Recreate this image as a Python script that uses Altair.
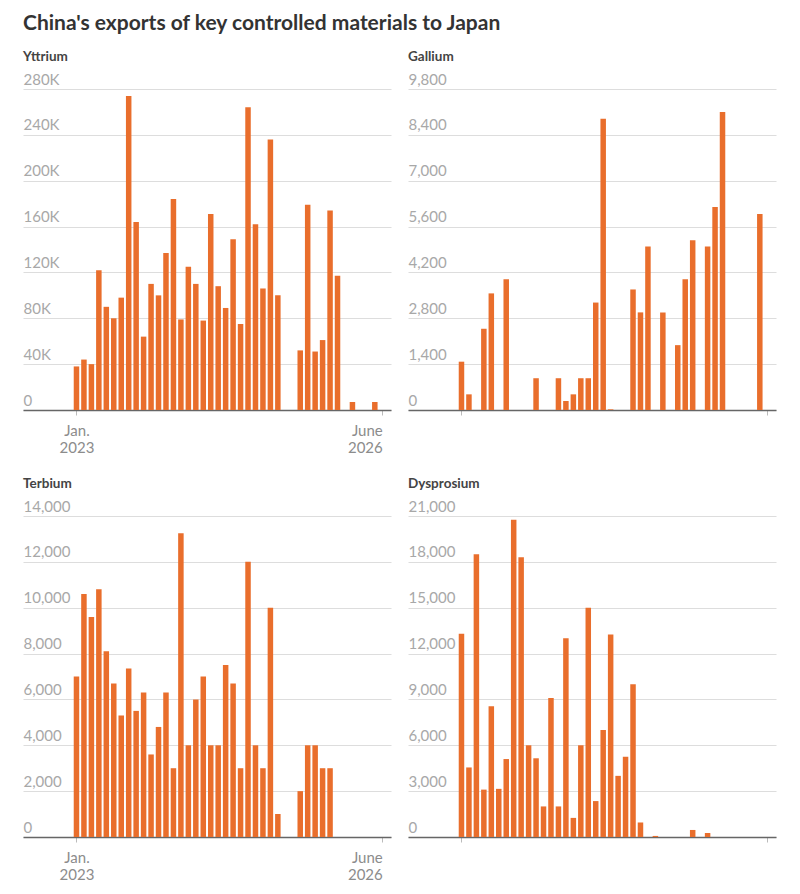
import altair as alt
import pandas as pd

# Months indexed from Jan. 2023 (0) to June 2026 (41)
months = list(range(42))

yttrium = [38000, 44000, 40000, 122000, 90000, 80000, 98000, 274000, 164000, 64000,
           110000, 100000, 137000, 184000, 79000, 125000, 110000, 78000, 171000, 108000,
           89000, 149000, 75000, 264000, 162000, 106000, 236000, 100000, None, None,
           52000, 179000, 51000, 61000, 174000, 117000, None, 7000, None, None,
           7000, None]

gallium = [1475, 478, None, 2480, 3560, None, 3990, None, None, None,
           970, None, None, 970, 275, 478, 970, 970, 3280, 8890,
           20, None, None, 3680, 2980, 4990, None, 2980, None, 1980,
           3990, 5180, None, 4990, 6200, 9100, None, None, None, None,
           5980, None]

terbium = [7000, 10600, 9600, 10800, 8100, 6700, 5300, 7350, 5500, 6300,
           3600, 4800, 6300, 3000, 13250, 4000, 6000, 7000, 4000, 4000,
           7500, 6700, 3000, 12000, 4000, 3000, 10000, 1000, None, None,
           2000, 4000, 4000, 3000, 3000, None, None, None, None, None,
           None, None]

dysprosium = [13300, 4550, 18500, 3100, 8550, 3150, 5100, 20750, 18300, 6000,
              5150, 2000, 9100, 2000, 13000, 1250, 6000, 15000, 2350, 7000,
              13250, 4000, 5250, 10000, 950, None, 70, None, None, None,
              None, 460, None, 260, None, None, None, None, None, None,
              None, None]

x_tick_values = [0, 41]
x_tick_labels = [["Jan.", "2023"], ["June", "2026"]]

FONT = "Lato"
ORANGE = "#e96e2c"


def panel(name, values, ymax, step, label_expr, show_x_labels):
    df = pd.DataFrame({"month": months, "value": values}).dropna()
    if show_x_labels:
        x_axis = alt.Axis(
            values=x_tick_values,
            labelExpr="datum.value == 0 ? ['Jan.', '2023'] : ['June', '2026']",
            labelAlign={"condition": {"test": "datum.value == 41", "value": "right"}, "value": "center"},
            labelFontSize=15, labelColor="#8c8c8c", labelFont=FONT,
            labelLineHeight=17, labelPadding=8,
            tickSize=5, tickColor="#bbbbbb", domainColor="#666666", domainWidth=1.5,
            grid=False, title=None,
        )
    else:
        x_axis = alt.Axis(
            values=x_tick_values, labels=False,
            tickSize=5, tickColor="#bbbbbb", domainColor="#666666", domainWidth=1.5,
            grid=False, title=None,
        )
    y_axis = alt.Axis(
        values=list(range(0, ymax + 1, step)),
        labelExpr=label_expr,
        labelAlign="left", labelBaseline="alphabetic", labelPadding=0, labelOffset=-5,
        labelFontSize=15, labelColor="#a8a8a8", labelFont=FONT,
        ticks=False, tickSize=0, domain=False,
        grid=True, gridColor="#dddddd", gridWidth=1,
        title=None,
    )
    return (
        alt.Chart(df, title=alt.TitleParams(
            name, anchor="start", fontSize=13.5, fontWeight="bold",
            color="#444444", font=FONT, offset=9))
        .mark_bar(size=5.5, color=ORANGE)
        .encode(
            x=alt.X("month:Q", scale=alt.Scale(domain=[-6.5, 41.5], nice=False, zero=False), axis=x_axis),
            y=alt.Y("value:Q", scale=alt.Scale(domain=[0, ymax], nice=False), axis=y_axis),
        )
        .properties(width=368, height=321)
    )


k_expr = "datum.value == 0 ? '0' : format(datum.value / 1000, 'd') + 'K'"
c_expr = "format(datum.value, ',d')"

top = alt.hconcat(
    panel("Yttrium", yttrium, 280000, 40000, k_expr, True),
    panel("Gallium", gallium, 9800, 1400, c_expr, False),
    spacing=17,
)
bottom = alt.hconcat(
    panel("Terbium", terbium, 14000, 2000, c_expr, True),
    panel("Dysprosium", dysprosium, 21000, 3000, c_expr, False),
    spacing=17,
)

chart = (
    alt.vconcat(top, bottom, spacing=21)
    .properties(
        title=alt.TitleParams(
            "China's exports of key controlled materials to Japan",
            anchor="start", fontSize=21, fontWeight="bold", color="#333333",
            font=FONT, offset=16),
        padding={"left": 23, "right": 24, "top": 12, "bottom": 10},
        background="white",
    )
    .configure_view(strokeWidth=0)
    .configure_concat(spacing=17)
)

chart.save("out.html", embed_options={"renderer": "svg", "actions": False})
